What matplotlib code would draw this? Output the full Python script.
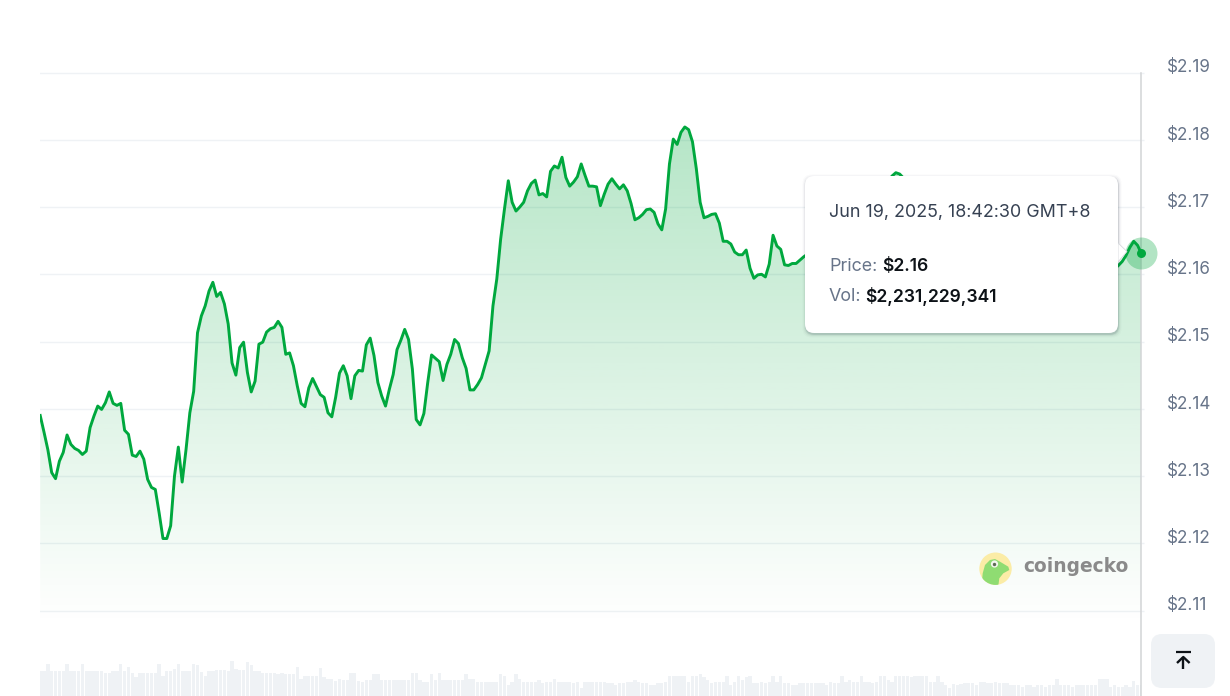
import matplotlib
matplotlib.use('Agg')
import matplotlib.pyplot as plt
import numpy as np
from matplotlib.colors import to_rgb
from matplotlib.patches import Circle, FancyBboxPatch, Polygon
from matplotlib.transforms import ScaledTranslation

# 5 minute closes, USD
price = [
    2.1390, 2.1365, 2.1339, 2.1305, 2.1296, 2.1322, 2.1335, 2.1361, 2.1347, 2.1341,
    2.1338, 2.1332, 2.1337, 2.1372, 2.1389, 2.1404, 2.1399, 2.1409, 2.1425, 2.1408,
    2.1405, 2.1408, 2.1368, 2.1362, 2.1331, 2.1329, 2.1337, 2.1325, 2.1295, 2.1283,
    2.1280, 2.1245, 2.1207, 2.1207, 2.1226, 2.1300, 2.1343, 2.1291, 2.1339, 2.1394,
    2.1426, 2.1513, 2.1538, 2.1553, 2.1575, 2.1588, 2.1567, 2.1573, 2.1556, 2.1526,
    2.1468, 2.1450, 2.1491, 2.1499, 2.1454, 2.1425, 2.1441, 2.1496, 2.1499, 2.1514,
    2.1519, 2.1521, 2.1530, 2.1521, 2.1481, 2.1483, 2.1464, 2.1434, 2.1408, 2.1403,
    2.1431, 2.1445, 2.1433, 2.1421, 2.1417, 2.1394, 2.1388, 2.1417, 2.1453, 2.1464,
    2.1449, 2.1415, 2.1449, 2.1457, 2.1456, 2.1495, 2.1505, 2.1479, 2.1439, 2.1419,
    2.1404, 2.1429, 2.1451, 2.1488, 2.1502, 2.1518, 2.1503, 2.1459, 2.1384, 2.1376,
    2.1393, 2.1439, 2.1480, 2.1475, 2.1470, 2.1442, 2.1466, 2.1481, 2.1503, 2.1497,
    2.1476, 2.1460, 2.1428, 2.1428, 2.1436, 2.1446, 2.1466, 2.1486, 2.1553, 2.1593,
    2.1652, 2.1697, 2.1739, 2.1707, 2.1694, 2.1700, 2.1707, 2.1724, 2.1735, 2.1740,
    2.1718, 2.1720, 2.1715, 2.1753, 2.1761, 2.1758, 2.1774, 2.1744, 2.1731, 2.1737,
    2.1745, 2.1764, 2.1747, 2.1731, 2.1731, 2.1730, 2.1702, 2.1719, 2.1734, 2.1742,
    2.1734, 2.1727, 2.1733, 2.1724, 2.1705, 2.1681, 2.1684, 2.1689, 2.1696, 2.1697,
    2.1692, 2.1675, 2.1666, 2.1697, 2.1764, 2.1801, 2.1793, 2.1811, 2.1819, 2.1815,
    2.1797, 2.1757, 2.1707, 2.1684, 2.1686, 2.1689, 2.1690, 2.1676, 2.1649, 2.1649,
    2.1645, 2.1633, 2.1629, 2.1629, 2.1636, 2.1609, 2.1594, 2.1599, 2.1600, 2.1596,
    2.1615, 2.1658, 2.1642, 2.1637, 2.1614, 2.1613, 2.1616, 2.1616, 2.1621, 2.1626,
    # behind the tooltip
    2.1630, 2.1622, 2.1635, 2.1628, 2.1640, 2.1648, 2.1638, 2.1655, 2.1662, 2.1650,
    2.1668, 2.1675, 2.1665, 2.1680, 2.1690, 2.1682, 2.1695, 2.1705, 2.1712, 2.1715,
    2.1730, 2.1738, 2.1746, 2.1751, 2.1749, 2.1743, 2.1736, 2.1728, 2.1735, 2.1725,
    2.1718, 2.1708, 2.1715, 2.1700, 2.1690, 2.1698, 2.1682, 2.1672, 2.1680, 2.1668,
    2.1655, 2.1662, 2.1650, 2.1642, 2.1648, 2.1635, 2.1628, 2.1638, 2.1625, 2.1618,
    2.1630, 2.1640, 2.1632, 2.1622, 2.1615, 2.1624, 2.1610, 2.1605, 2.1614, 2.1608,
    2.1598, 2.1606, 2.1600, 2.1610, 2.1618, 2.1612, 2.1604, 2.1596, 2.1602, 2.1608,
    2.1600, 2.1594, 2.1602, 2.1610, 2.1604, 2.1598, 2.1606, 2.1612, 2.1607, 2.1602,
    2.1608,
    2.1613, 2.1619, 2.1628, 2.1640, 2.1649, 2.1643, 2.1631,
]

# billions USD per bar
volume = [
    5.0, 5.0, 6.4, 5.0, 5.0, 5.0, 5.0, 6.4, 5.0, 5.0, 5.0, 6.4, 5.0, 5.0, 5.0, 5.0,
    5.0, 4.67, 4.67, 5.0, 5.0, 6.4, 5.0, 5.73, 4.67, 3.73, 4.67, 4.67, 4.67, 4.67,
    4.67, 6.4, 4.0, 5.0, 5.0, 5.47, 6.4, 5.0, 5.0, 5.0, 6.4, 6.13, 4.87, 4.0, 5.0,
    5.0, 5.2, 5.2, 5.2, 5.0, 7.0, 5.47, 5.2, 5.2, 6.73, 6.13, 5.0, 5.0, 4.67, 4.67,
    4.67, 4.67, 4.33, 4.67, 4.33, 4.33, 4.33, 5.8, 3.4, 4.0, 4.0, 4.0, 4.0, 5.53,
    3.73, 3.4, 3.4, 3.07, 3.4, 3.13, 3.13, 4.67, 4.67, 3.07, 2.8, 3.13, 3.13, 4.33,
    4.33, 3.13, 3.13, 3.13, 3.13, 3.13, 3.13, 3.13, 3.13, 4.67, 4.67, 3.13, 2.8, 2.8,
    4.33, 3.13, 4.67, 3.13, 3.13, 3.13, 3.13, 3.13, 3.13, 4.33, 3.4, 3.4, 2.8, 2.8,
    2.8, 2.8, 2.8, 2.8, 4.33, 4.0, 2.2, 2.8, 4.33, 3.4, 2.8, 2.8, 2.8, 2.8, 3.13,
    2.53, 2.8, 2.8, 3.4, 2.8, 2.8, 2.8, 2.8, 2.53, 2.8, 1.6, 2.8, 2.8, 2.8, 2.8, 2.8,
    2.8, 2.53, 2.53, 2.2, 2.53, 2.53, 2.8, 2.8, 3.13, 2.8, 2.53, 2.53, 2.2, 2.2, 2.53,
    2.53, 2.8, 4.0, 4.0, 4.0, 4.0, 4.0, 2.8, 4.0, 4.0, 4.33, 3.73, 3.13, 2.53, 2.8,
    2.8, 2.8, 4.0, 2.2, 2.8, 4.0, 3.13, 3.73, 4.0, 2.53, 2.53, 2.8, 2.53, 2.8, 4.0,
    2.8, 4.0, 2.53, 2.53, 2.2, 2.2, 2.53, 2.53, 2.53, 2.53, 2.53, 2.53, 2.53, 2.2,
    2.73, 2.53, 2.53, 4.0, 2.73, 3.13, 2.87, 2.73, 4.0, 2.73, 2.73, 2.53, 2.73, 4.0,
    4.0, 3.13, 2.73, 4.0, 4.0, 4.0, 4.0, 3.73, 4.0, 4.0, 4.0, 4.0, 2.73, 2.73, 4.0,
    2.73, 2.13, 1.6, 2.4, 2.13, 2.4, 2.53, 2.53, 2.53, 2.13, 2.73, 2.73, 2.53, 2.53,
    2.73, 2.53, 2.53, 2.53, 2.13, 2.13, 2.13, 1.87, 2.13, 2.13, 1.87, 2.13, 2.13, 1.87,
    2.13, 2.13, 3.33, 2.13, 2.13, 2.13, 1.87, 2.13, 2.13, 2.13, 2.13, 2.13, 2.13, 3.33,
    3.33, 3.33, 1.87, 2.13, 1.87, 1.87, 2.13, 1.87, 3.07, 2.13, 2.23,
]

y_ticks = [2.11, 2.12, 2.13, 2.14, 2.15, 2.16, 2.17, 2.18, 2.19]

WIDTH, HEIGHT = 1230, 696
GREEN = '#00a83e'
GRID = '#eff2f5'
LABEL_GREY = '#677489'
INK = '#0d1217'

plt.rcParams['font.family'] = ['Inter', 'DejaVu Sans']

n = len(price)
x = np.arange(n)
px_per_usd = 6725.0
# 2.11 sits on pixel row 610.5
price_bottom = 2.11 - (HEIGHT - 610.5) / px_per_usd
price_top = 2.11 + 610.5 / px_per_usd

fig = plt.figure(figsize=(WIDTH / 100, HEIGHT / 100), dpi=100)
left, right = 40.2 / WIDTH, 1141.4 / WIDTH

# volume sits behind everything, same box as the price axes
vax = fig.add_axes([left, 0, right - left, 1])
vax.axis('off')
vol_x = np.arange(len(volume)) * (n - 1) / (len(volume) - 1)
vax.bar(vol_x, volume, width=0.86, color='#eff2f5', linewidth=0)
vax.set_xlim(0, n - 1)
vax.set_ylim(0, HEIGHT * 0.2)

ax = fig.add_axes([left, 0, right - left, 1])
ax.patch.set_alpha(0)
ax.set_axisbelow(True)
ax.grid(axis='y', color=GRID, linewidth=1.0)

# gradient fill under the line
fill_floor = 2.11 - (626 - 610.5) / px_per_usd
fill_ceil = 2.11 + (610.5 - 128) / px_per_usd
grad = np.zeros((256, 1, 4))
grad[..., :3] = to_rgb(GREEN)
grad[..., 3] = np.linspace(0.29, 0.0, 256)[:, None]
poly = ax.fill_between(x, price, fill_floor, facecolor='none', linewidth=0)
im = ax.imshow(grad, extent=[0, n - 1, fill_floor, fill_ceil], aspect='auto',
               origin='upper', zorder=1.5)
im.set_clip_path(poly.get_paths()[0], transform=ax.transData)

ax.plot(x, price, color=GREEN, linewidth=2.1, zorder=3, solid_joinstyle='round')
ax.scatter(x[-1], price[-1], s=530, color=GREEN, alpha=0.3, linewidths=0, zorder=4, clip_on=False)
ax.scatter(x[-1], price[-1], s=42, color=GREEN, linewidths=0, zorder=5, clip_on=False)

ax.set_xlim(0, n - 1)
ax.set_ylim(price_bottom, price_top)
ax.set_xticks([])
ax.set_yticks(y_ticks)
ax.set_yticklabels([f'${v:.2f}' for v in y_ticks])
ax.yaxis.tick_right()
ax.tick_params(axis='y', length=2.5, width=1.0, color=GRID, pad=16,
               labelsize=12.3, labelcolor=LABEL_GREY)
offset = ScaledTranslation(0, 6.7 / 100, fig.dpi_scale_trans)
for lab in ax.get_yticklabels():
    lab.set_transform(lab.get_transform() + offset)
for name in ['top', 'left', 'bottom']:
    ax.spines[name].set_visible(False)
ax.spines['right'].set_color('#d2d4d6')
ax.spines['right'].set_linewidth(1.1)
ax.spines['right'].set_bounds(price_bottom, 2.19)

# overlay in image pixels for tooltip, logo and button
ov = fig.add_axes([0, 0, 1, 1], zorder=10)
ov.set_xlim(0, WIDTH)
ov.set_ylim(HEIGHT, 0)
ov.axis('off')


def round_box(x0, y0, x1, y1, radius, **kw):
    box = FancyBboxPatch((x0 + radius, y0 + radius), x1 - x0 - 2 * radius, y1 - y0 - 2 * radius,
                         boxstyle=f'round,pad={radius},rounding_size={radius}', **kw)
    ov.add_patch(box)
    return box


# tooltip
for grow, a in [(3.0, 0.02), (2.0, 0.04), (1.0, 0.07), (0.3, 0.11)]:
    round_box(805 - grow + 0.5, 176 - grow + 1.5, 1118 + grow + 0.5, 333 + grow + 1.5, 9,
              facecolor='#1a2a3a', edgecolor='none', alpha=a)
ov.add_patch(Polygon([(1118, 243), (1127, 251.5), (1118, 262)], closed=True,
                     facecolor='white', edgecolor='#d5d8dc', linewidth=0.6))
round_box(805, 176, 1118, 333, 9, facecolor='white', edgecolor='none')
ov.text(829, 213, 'Jun 19, 2025, 18:42:30 GMT+8', fontsize=12.9, color='#364152', va='center')
ov.text(829, 266.5, 'Price:', fontsize=12.9, color=LABEL_GREY, va='center')
ov.text(882, 266.5, '$2.16', fontsize=12.6, color=INK, va='center', fontweight='semibold')
ov.text(829, 296.5, 'Vol:', fontsize=12.9, color=LABEL_GREY, va='center')
ov.text(865, 296.5, '$2,231,229,341', fontsize=12.6, color=INK, va='center', fontweight='semibold')

# coingecko mark
badge = Circle((995.5, 568.7), 16.2, facecolor='#fbeca6', edgecolor='none')
ov.add_patch(badge)
gecko = Polygon([(981.7, 584), (982.7, 573.3), (985, 565), (990, 560), (995, 559), (1000, 561.7),
                 (1008.3, 566.7), (1009.3, 570), (1003.3, 573.3), (999.3, 578.3), (998.3, 586)],
                closed=True, facecolor='#8fdc72', edgecolor='none')
ov.add_patch(gecko)
gecko.set_clip_path(badge)
ov.add_patch(Circle((994.5, 564), 3.6, facecolor='#f4f6ee', edgecolor='none'))
ov.add_patch(Circle((994.5, 564.5), 1.7, facecolor='#5c6b55', edgecolor='none'))
ov.text(1023, 567, 'coingecko', fontsize=13.4, color='#8a8a8a', va='center', fontweight='bold',
        family=['DejaVu Sans'])

# scroll-to-top button
round_box(1151, 634, 1215, 688, 11, facecolor='#eff2f5', edgecolor='none')
ov.plot([1175.5, 1191], [652, 652], color=INK, linewidth=1.6, solid_capstyle='butt')
ov.plot([1183.3, 1183.3], [657, 669], color=INK, linewidth=1.7, solid_capstyle='butt')
ov.plot([1177, 1183.3, 1189.6], [663, 657, 663], color=INK, linewidth=1.7, solid_capstyle='butt')

fig.savefig('out.png', dpi=100)
